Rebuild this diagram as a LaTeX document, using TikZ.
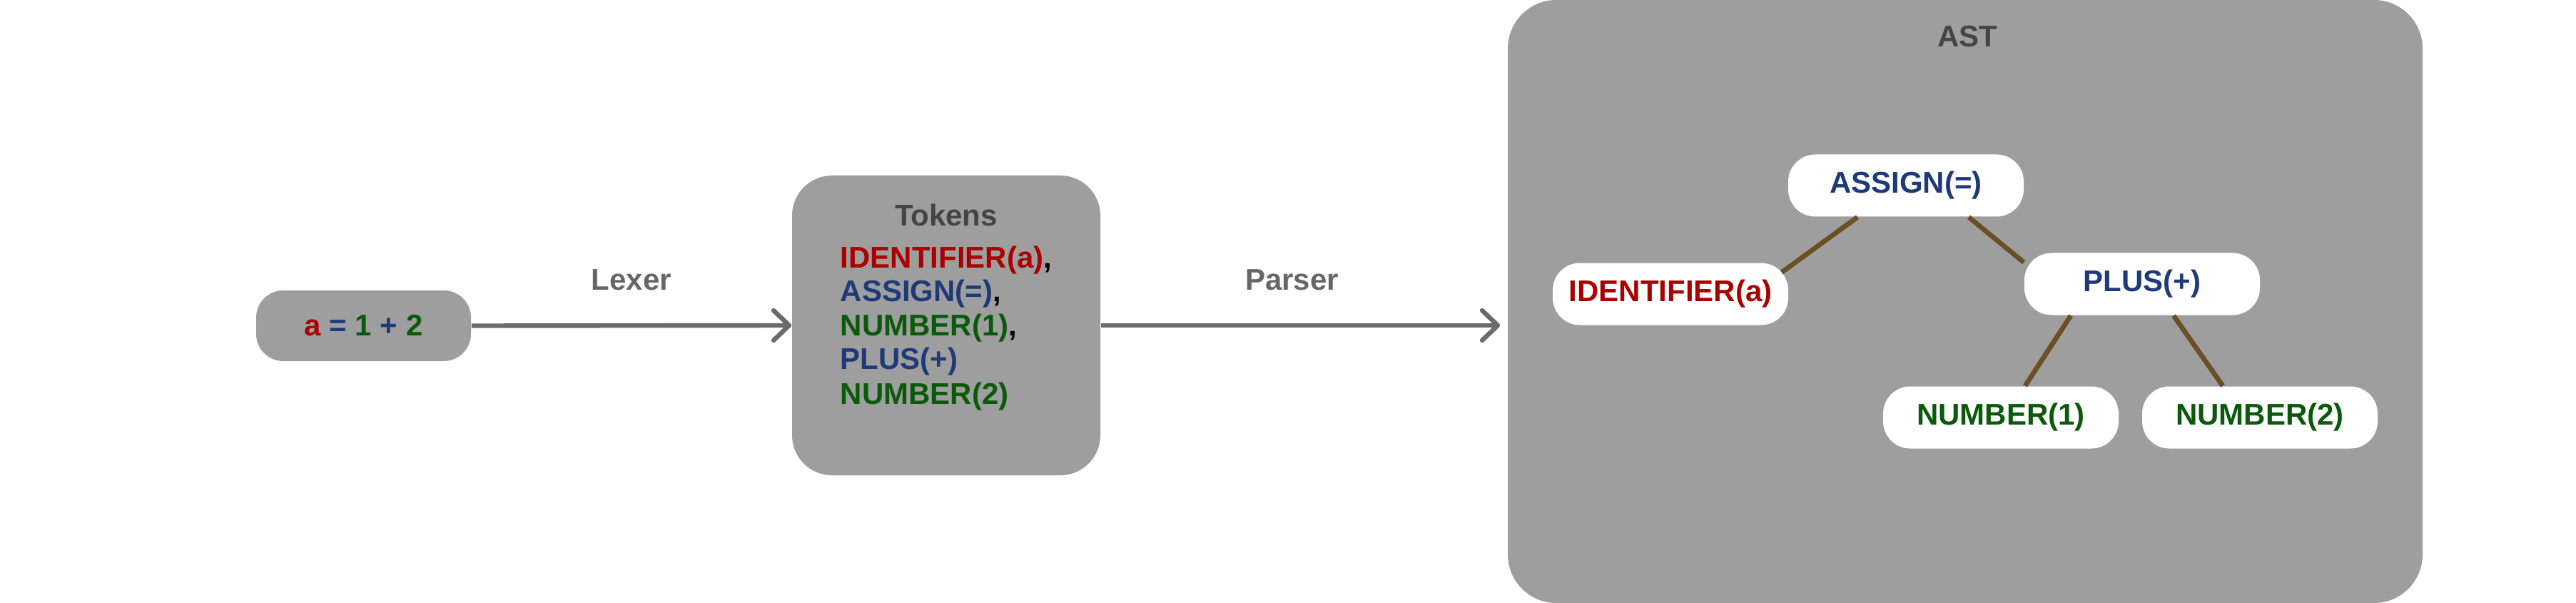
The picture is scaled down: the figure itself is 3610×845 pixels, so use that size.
\documentclass[tikz,border=0pt]{standalone}
\usepackage{fontspec}
\setmainfont{Liberation Sans}
\usepackage{tikz}
\usetikzlibrary{positioning, arrows.meta}

\definecolor{boxgray}{HTML}{9E9E9E}
\definecolor{arrowgray}{HTML}{6B6B6B}
\definecolor{labelgray}{HTML}{666666}
\definecolor{titlegray}{HTML}{444444}
\definecolor{idred}{HTML}{AA0000}
\definecolor{opblue}{HTML}{1F3A78}
\definecolor{numgreen}{HTML}{0B5A0B}
\definecolor{branchbrown}{HTML}{6B4F25}

\begin{document}
\begin{tikzpicture}[x=0.25pt, y=-0.25pt,
    every node/.style={font=\fontsize{10.5}{12}\selectfont\bfseries},
    graybox/.style={fill=boxgray, inner sep=0pt},
    astnode/.style={fill=white, rounded corners=9.5pt, minimum width=82.5pt, minimum height=21.75pt, inner sep=0pt},
    flow/.style={draw=arrowgray, line width=1.6pt, -{Straight Barb[length=5.5pt,width=10.5pt,round]}},
    branch/.style={draw=branchbrown, line width=1.7pt},
    lbl/.style={text=labelgray, anchor=base, yshift=12.5pt},
    title/.style={text=titlegray, anchor=base},
    tok/.style={anchor=base west, inner sep=0pt}]
    \useasboundingbox (0,0) rectangle (3610,845);

    % source line
    \node[graybox, rounded corners=9.5pt, minimum width=75.25pt, minimum height=24.75pt] (input) at (509.5,456.5)
        {\textcolor{idred}{a} \textcolor{opblue}{=} \textcolor{numgreen}{1} \textcolor{opblue}{+} \textcolor{numgreen}{2}};

    % token stream
    \node[graybox, rounded corners=14pt, minimum width=108pt, minimum height=105pt] (tokens) at (1326,456) {};
    \node[title] (tokenstitle) at (1326,317) {Tokens};
    \node[tok] (tok1) at (1177,375) {\textcolor{idred}{IDENTIFIER(a)},};
    \node[tok] (tok2) at (1177,423) {\textcolor{opblue}{ASSIGN(=)},};
    \node[tok] (tok3) at (1177,470) {\textcolor{numgreen}{NUMBER(1)},};
    \node[tok] (tok4) at (1177,517) {\textcolor{opblue}{PLUS(+)}};
    \node[tok] (tok5) at (1177,566) {\textcolor{numgreen}{NUMBER(2)}};

    % syntax tree
    \node[graybox, rounded corners=17pt, minimum width=320.5pt, minimum height=211.25pt] (ast) at (2754,422.5) {};
    \node[title] (asttitle) at (2757,66) {AST};
    \node[astnode, text=opblue] (assign) at (2671,260) {ASSIGN(=)};
    \node[astnode, text=idred] (ident) at (2341,412) {IDENTIFIER(a)};
    \node[astnode, text=opblue] (plus) at (3002,398) {PLUS(+)};
    \node[astnode, text=numgreen] (num1) at (2804,585) {NUMBER(1)};
    \node[astnode, text=numgreen] (num2) at (3167,585) {NUMBER(2)};

    \draw[flow] (input.east) -- node[lbl] {Lexer} (tokens.west);
    \draw[flow, shorten >=2.5pt] (tokens.east) -- node[lbl, pos=0.47] {Parser} (ast.west |- tokens.east);

    \path[branch]
    ([xshift=-17pt]assign.south) edge ([xshift=-2.5pt,yshift=-3.5pt]ident.north east)
    ([xshift=22pt]assign.south) edge ([yshift=-3.5pt]plus.north west)
    ([xshift=-25pt]plus.south) edge ([xshift=8.5pt]num1.north)
    ([xshift=11pt]plus.south) edge ([xshift=-13pt]num2.north);
\end{tikzpicture}
\end{document}
